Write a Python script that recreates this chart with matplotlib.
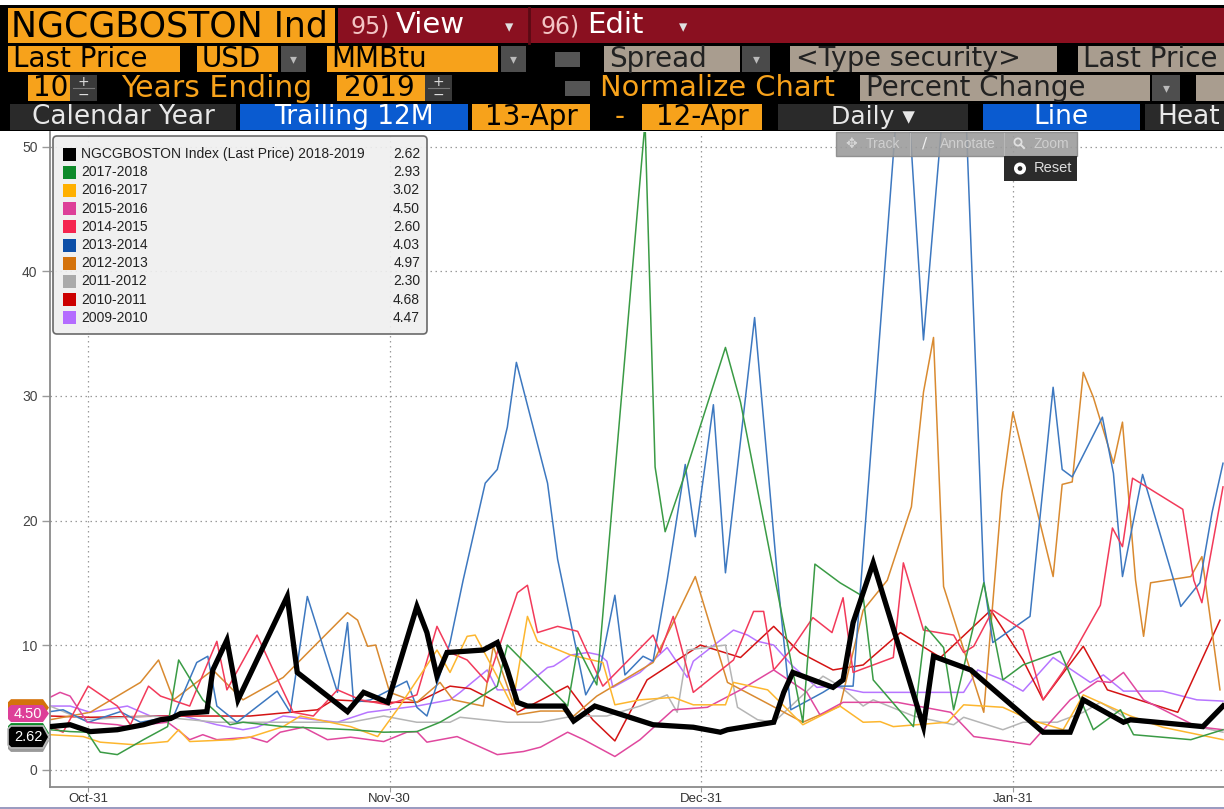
import matplotlib
matplotlib.use("Agg")
import matplotlib.pyplot as plt
from matplotlib.patches import Rectangle, Polygon, FancyBboxPatch, Circle

W, H = 1224, 809

# ---------------- data (x = days after Oct-31, y = USD/MMBtu) ----------------
labels = ["NGCGBOSTON Index (Last Price) 2018-2019", "2017-2018", "2016-2017", "2015-2016",
          "2014-2015", "2013-2014", "2012-2013", "2011-2012", "2010-2011", "2009-2010"]
last_vals = [2.62, 2.93, 3.02, 4.50, 2.60, 4.03, 4.97, 2.30, 4.68, 4.47]
swatch = ["#000000", "#0E8A2A", "#FFB000", "#DD3F98", "#F5254F", "#0D4FA8", "#D4720B",
          "#AAAAAA", "#CC0000", "#B46CFF"]
line_col = ["#000000", "#3A9B45", "#FDB62E", "#E0489E", "#F23A5A", "#3D78C0", "#D98A30",
            "#B5B5B5", "#D41414", "#B775FF"]

d_1819 = [-3.8, -1.8, 0.2, 2.9, 5.5, 7.2, 8.2, 9.2, 11.8, 12.4, 13.8, 14.9, 19.8, 20.8, 25.8,
          27.4, 29.8, 32.7, 33.7, 34.7, 35.7, 39.3, 40.7, 41.7, 42.7, 43.7, 47.3, 48.3, 50.4, 56.2,
          60.2, 62.9, 63.6, 68.2, 69.2, 70.1, 74.1, 75.1, 76.1, 78.1, 83.1, 84.1, 87.8, 95.0, 97.7,
          99.0, 103.0, 103.7, 110.9, 112.9]
v_1819 = [3.45, 3.6, 3.05, 3.2, 3.6, 4.0, 4.1, 4.5, 4.65, 8.0, 10.4, 5.6, 13.9, 7.8, 4.65,
          6.2, 5.4, 13.1, 11.0, 7.5, 9.4, 9.6, 10.2, 8.0, 5.4, 5.1, 5.1, 3.9, 5.1, 3.6,
          3.4, 3.0, 3.2, 3.8, 6.2, 7.8, 6.6, 7.2, 11.8, 16.6, 3.45, 9.1, 8.0, 3.0, 3.0,
          5.6, 3.8, 4.0, 3.45, 5.1]

d_1718 = [-3.8, -1.8, -0.1, 1.2, 2.9, 5.5, 7.9, 9.0, 11.4, 14.1, 15.4, 19.4, 26.1, 29.4, 32.7,
          35.0, 36.7, 40.7, 41.7, 47.7, 48.7, 50.6, 55.4, 56.4, 57.4, 59.4, 63.4, 64.9, 71.1, 72.3,
          74.8, 77.1, 78.1, 82.1, 83.3, 85.1, 86.1, 89.1, 91.0, 93.0, 96.7, 100.0, 102.7, 104.0,
          109.7, 112.9]
v_1718 = [3.2, 3.05, 3.0, 1.4, 1.2, 2.4, 3.45, 8.8, 5.6, 3.6, 3.8, 3.45, 3.2, 3.0, 3.05,
          3.8, 4.6, 6.7, 10.0, 5.1, 9.8, 6.8, 52.0, 24.3, 19.1, 23.8, 33.9, 29.5, 3.8, 16.5,
          15.0, 13.9, 7.2, 3.45, 11.5, 9.8, 4.8, 15.0, 7.2, 8.4, 9.5, 3.2, 4.8, 2.8,
          2.4, 3.2]

d_1617 = [-3.8, -0.5, 1.2, 4.5, 7.9, 9.0, 10.1, 14.4, 16.1, 19.4, 21.1, 26.1, 28.8, 31.0, 34.7,
          36.0, 37.7, 38.5, 41.0, 42.2, 43.7, 44.7, 48.0, 51.2, 52.4, 54.9, 58.2, 60.2, 63.4, 64.2,
          67.6, 71.1, 74.8, 77.1, 78.8, 80.1, 85.5, 87.1, 91.0, 93.7, 97.0, 99.0, 103.7, 106.9, 112.9]
v_1617 = [2.8, 2.65, 2.2, 2.0, 2.25, 3.2, 2.25, 2.4, 2.6, 3.45, 4.3, 3.45, 2.65, 5.1, 9.6,
          7.8, 10.7, 10.8, 7.0, 5.1, 12.3, 10.3, 9.2, 8.6, 5.2, 5.6, 5.8, 5.2, 5.2, 7.0,
          6.4, 3.6, 5.1, 3.8, 3.85, 3.45, 3.8, 5.2, 5.0, 4.0, 3.2, 6.0, 4.3, 3.4, 2.4]

d_1516 = [-3.8, -2.8, -1.8, -0.1, 2.9, 3.9, 7.9, 8.9, 10.1, 11.4, 12.8, 16.1, 17.8, 19.1, 21.4,
          23.8, 26.1, 29.4, 31.7, 32.7, 33.7, 36.7, 40.7, 43.3, 45.0, 47.7, 49.3, 52.4, 54.9, 58.2,
          61.6, 64.9, 68.2, 71.5, 72.8, 75.1, 80.5, 85.8, 88.1, 90.4, 93.7, 97.7, 100.4, 101.7,
          103.0, 105.0, 110.3, 112.9]
v_1516 = [5.8, 6.2, 5.9, 3.8, 3.6, 3.45, 3.8, 3.2, 2.4, 2.8, 2.4, 2.6, 2.2, 3.0, 3.4,
          2.4, 2.6, 2.25, 3.0, 3.05, 2.2, 2.65, 1.2, 1.45, 1.8, 3.0, 2.4, 1.05, 2.4, 4.8,
          5.0, 6.4, 8.0, 6.2, 4.4, 5.4, 5.4, 4.6, 2.65, 2.4, 2.0, 5.6, 7.1, 7.0,
          7.8, 5.6, 3.45, 3.2]

d_1415 = [-3.8, -2.5, 0.0, 2.9, 4.2, 6.0, 7.2, 10.1, 12.8, 13.8, 16.8, 18.4, 20.4, 22.4, 24.8,
          27.1, 29.8, 32.7, 34.7, 36.0, 37.7, 39.7, 42.7, 43.7, 44.7, 46.7, 48.7, 50.0, 51.2, 56.2,
          56.9, 58.2, 60.2, 64.2, 66.2, 67.2, 68.2, 69.9, 72.1, 74.0, 75.1, 76.1, 80.1, 81.1, 83.1,
          86.1, 87.1, 88.1, 90.0, 93.0, 95.0, 97.0, 100.7, 101.9, 102.9, 103.9, 108.9, 110.0,
          110.8, 112.9]
v_1415 = [3.45, 3.0, 6.7, 5.1, 3.6, 6.7, 5.9, 5.1, 10.3, 6.4, 10.8, 8.0, 4.6, 4.3, 6.4,
          5.6, 5.2, 6.0, 11.5, 9.4, 8.8, 7.0, 14.2, 14.8, 11.0, 11.5, 11.1, 8.8, 6.7, 10.8,
          9.4, 12.3, 6.2, 8.8, 12.7, 12.7, 8.0, 9.6, 12.2, 11.0, 13.8, 7.8, 9.0, 16.6, 11.2,
          10.8, 9.4, 9.9, 12.8, 11.2, 5.6, 7.9, 13.2, 19.4, 17.9, 23.4, 20.9, 15.2,
          13.4, 22.7]

d_1314 = [-3.8, -2.5, 0.0, 3.2, 5.2, 8.5, 10.8, 11.9, 12.8, 14.8, 18.8, 20.1, 21.8, 24.8, 25.8,
          26.4, 28.1, 31.7, 32.7, 33.7, 36.0, 37.3, 39.5, 40.7, 41.7, 42.6, 45.7, 46.7, 49.5, 50.9,
          52.4, 53.4, 55.2, 56.2, 57.6, 59.4, 60.4, 62.2, 63.4, 66.3, 68.6, 69.9, 73.1, 74.1, 76.1,
          81.1, 83.1, 86.6, 89.1, 90.0, 93.7, 96.0, 96.9, 97.9, 100.9, 102.0, 102.9, 104.9, 108.0,
          108.7, 110.6, 111.8, 112.9]
v_1314 = [4.65, 4.8, 3.8, 4.65, 3.8, 4.3, 8.6, 9.1, 5.1, 3.8, 6.3, 4.6, 13.9, 6.2, 11.8,
          5.4, 5.6, 7.1, 5.0, 4.3, 10.2, 15.2, 23.0, 24.1, 27.5, 32.7, 23.0, 16.9, 6.0, 8.0,
          14.0, 7.6, 9.1, 8.7, 15.2, 24.5, 18.7, 29.3, 15.8, 36.3, 15.2, 4.8, 6.2, 6.7, 6.7,
          60.0, 34.5, 68.0, 15.2, 10.2, 12.3, 30.7, 24.1, 23.5, 28.3, 23.8, 15.5, 23.7, 15.2,
          13.1, 15.0, 20.6, 24.6]

d_1213 = [-3.8, 0.2, 5.2, 7.0, 8.5, 12.4, 15.4, 19.4, 25.8, 26.8, 27.8, 28.6, 30.0, 32.7, 35.0,
          36.3, 39.3, 40.3, 42.7, 45.0, 47.3, 48.3, 50.6, 56.2, 58.2, 60.4, 63.6, 66.9, 71.1, 74.8,
          77.1, 79.5, 81.9, 83.1, 84.1, 85.1, 89.1, 90.9, 92.0, 96.0, 96.9, 97.9, 99.0, 100.0, 102.0,
          102.9, 104.2, 105.0, 105.7, 109.7, 110.8, 112.6]
v_1213 = [4.0, 4.6, 7.0, 8.8, 5.6, 8.0, 5.6, 7.4, 12.6, 12.0, 9.9, 10.0, 6.2, 5.4, 7.0,
          5.6, 5.1, 9.9, 4.4, 4.7, 4.7, 4.3, 5.9, 8.6, 11.8, 15.5, 7.0, 5.6, 3.8, 5.1,
          12.8, 15.2, 21.1, 30.3, 34.7, 14.7, 4.6, 22.2, 28.7, 15.5, 22.9, 23.1, 31.9, 29.9, 24.6,
          27.9, 15.2, 10.7, 15.0, 15.5, 17.1, 6.4]

d_1112 = [-3.8, -0.5, 6.2, 12.8, 19.4, 26.1, 29.4, 32.7, 36.0, 37.0, 41.7, 45.0, 48.3, 51.6, 54.9,
          57.6, 58.6, 59.6, 63.4, 64.6, 66.6, 68.2, 73.1, 74.8, 77.1, 78.1, 82.1, 86.1, 87.1, 91.0,
          93.0, 96.4, 99.0, 100.7, 102.4, 103.7, 110.3, 112.9]
v_1112 = [5.1, 4.0, 4.3, 3.8, 3.8, 3.8, 4.3, 3.8, 3.8, 4.2, 3.8, 3.8, 4.3, 4.3, 5.1,
          6.0, 4.6, 9.6, 10.0, 5.0, 4.0, 3.8, 7.5, 6.7, 5.1, 5.6, 4.3, 3.6, 4.2, 3.2,
          3.8, 3.8, 4.6, 5.4, 4.6, 3.85, 3.45, 3.0]

d_1011 = [-3.8, 0.2, 7.9, 16.1, 22.8, 24.4, 29.4, 32.7, 36.0, 38.0, 42.7, 47.7, 50.2, 52.4, 55.6,
          60.9, 64.9, 68.2, 70.8, 74.1, 77.1, 80.8, 84.8, 89.8, 93.0, 95.0, 99.0, 101.4, 108.4, 112.6]
v_1011 = [4.3, 4.2, 4.3, 4.3, 4.8, 5.6, 5.4, 5.4, 6.7, 6.5, 4.6, 6.7, 4.0, 2.3, 7.2,
          10.0, 9.0, 11.5, 9.4, 8.0, 8.4, 11.0, 9.0, 12.8, 8.8, 5.6, 9.9, 6.4, 4.6, 12.0]

d_0910 = [-3.8, -1.8, 0.2, 3.9, 6.2, 9.5, 12.8, 15.4, 16.8, 19.4, 24.8, 27.8, 32.7, 36.0, 37.0,
          39.7, 40.7, 43.0, 45.7, 46.3, 48.0, 49.7, 50.9, 51.6, 52.2, 54.9, 57.6, 59.6, 60.2, 64.2,
          65.6, 66.6, 68.2, 70.1, 72.5, 74.1, 77.1, 87.1, 88.5, 91.0, 93.0, 96.0, 99.7, 101.0,
          103.0, 106.9, 110.3, 112.9]
v_0910 = [5.1, 5.1, 4.6, 5.1, 4.3, 4.3, 3.6, 3.2, 3.4, 4.3, 3.8, 4.6, 5.1, 5.6, 6.2,
          8.0, 6.4, 6.4, 8.2, 8.3, 9.2, 9.4, 9.2, 8.7, 6.6, 7.8, 9.8, 7.4, 8.7, 11.2,
          10.8, 10.3, 10.0, 8.3, 6.6, 6.7, 6.2, 6.2, 8.0, 7.2, 6.3, 9.0, 7.0, 7.6,
          6.3, 6.3, 5.6, 5.5]

series = [(d_1819, v_1819), (d_1718, v_1718), (d_1617, v_1617), (d_1516, v_1516),
          (d_1415, v_1415), (d_1314, v_1314), (d_1213, v_1213), (d_1112, v_1112),
          (d_1011, v_1011), (d_0910, v_0910)]

tick_days = [0, 30, 61, 92]
tick_labels = ["Oct-31", "Nov-30", "Dec-31", "Jan-31"]
y_ticks = [0, 10, 20, 30, 40, 50]

# ---------------- figure & layers ----------------
fig = plt.figure(figsize=(W / 100, H / 100), dpi=100, facecolor="white")

bg = fig.add_axes([0, 0, 1, 1], zorder=0)
bg.set_xlim(0, W)
bg.set_ylim(H, 0)
bg.axis("off")

ax = fig.add_axes([50 / W, 22 / H, (W - 50) / W, 655 / H], zorder=1)
ax.patch.set_alpha(0)

top = fig.add_axes([0, 0, 1, 1], zorder=2)
top.set_xlim(0, W)
top.set_ylim(H, 0)
top.axis("off")

ORANGE = "#F7A21B"
TAN = "#A99D8F"
DARK = "#2A2A2A"
BLUE = "#0A5BD0"
DROP = "#4E4E4E"


def box(a, x0, x1, y0, y1, fc, **kw):
    a.add_patch(Rectangle((x0, y0), x1 - x0, y1 - y0, fc=fc, ec="none", **kw))


def txt(a, x, y, s, size, color, ha="left", family="DejaVu Sans", **kw):
    a.text(x, y, s, fontsize=size, color=color, ha=ha, va="center", family=family, **kw)


def spinner(x0, y0, y1):
    box(bg, x0, x0 + 27, y0, y1, "#3A3A3A")
    bg.plot([x0 + 3, x0 + 24], [(y0 + y1) / 2] * 2, color="#777", lw=0.8)
    txt(bg, x0 + 13.5, y0 + 6.5, "+", 10, "#DDD", ha="center")
    txt(bg, x0 + 13.5, y1 - 6.5, "\u2212", 10, "#DDD", ha="center")


def dropdown(x0, x1, y0, y1, fc=DROP):
    box(bg, x0, x1, y0, y1, fc)
    txt(bg, (x0 + x1) / 2, (y0 + y1) / 2, "\u25be", 10, "#BBBBBB", ha="center")


# ---------------- header ----------------
box(bg, 0, W, 5, 131, "black")

# row 1
box(bg, 8, 335, 8, 43, ORANGE)
txt(bg, 11, 26, "NGCGBOSTON Ind", 25, "black")
box(bg, 338, W, 8, 43, "#8A1020")
bg.plot([529, 529], [8, 43], color="#5A0A14", lw=2)
txt(bg, 350, 26, "95)", 17, "#F2C4C4")
txt(bg, 396, 25, "View", 21, "white")
txt(bg, 505, 27, "\u25be", 12, "#E0E0E0")
txt(bg, 541, 26, "96)", 17, "#F2C4C4")
txt(bg, 587, 25, "Edit", 21, "white")
txt(bg, 679, 27, "\u25be", 12, "#E0E0E0")

# row 2
r2a, r2b, r2c = 46, 72, 59
box(bg, 8, 180, r2a, r2b, ORANGE)
txt(bg, 13, r2c, "Last Price", 20, "black")
box(bg, 197, 278, r2a, r2b, ORANGE)
txt(bg, 202, r2c, "USD", 20, "black")
dropdown(281, 306, r2a, r2b)
box(bg, 327, 498, r2a, r2b, ORANGE)
txt(bg, 331, r2c, "MMBtu", 20, "black")
dropdown(501, 526, r2a, r2b)
box(bg, 555, 580, 52, 67, "#555555")
box(bg, 604, 740, r2a, r2b, TAN)
txt(bg, 609, r2c, "Spread", 20, "#222")
dropdown(742, 770, r2a, r2b, "#4A4A4A")
box(bg, 790, 1057, r2a, r2b, TAN)
txt(bg, 796, r2c, "<Type security>", 19.5, "#222")
box(bg, 1078, W, r2a, r2b, TAN)
txt(bg, 1083, r2c, "Last Price", 20, "#222")

# row 3
r3a, r3b, r3c = 75, 101, 88
box(bg, 28, 70, r3a, r3b, ORANGE)
txt(bg, 33, r3c, "10", 20, "black")
spinner(70, r3a, r3b)
txt(bg, 121, r3c, "Years Ending", 21.5, ORANGE)
box(bg, 337, 425, r3a, r3b, ORANGE)
txt(bg, 344, r3c, "2019", 20, "black")
spinner(425, r3a, r3b)
box(bg, 565, 590, 81, 96, "#555555")
txt(bg, 600, r3c, "Normalize Chart", 20.8, ORANGE)
box(bg, 860, 1150, r3a, r3b, TAN)
txt(bg, 866, r3c, "Percent Change", 20, "#222")
dropdown(1152, 1180, r3a, r3b)
box(bg, 1196, W, r3a, r3b, TAN)

# row 4
r4a, r4b, r4c = 104, 130, 117
box(bg, 10, 236, r4a, r4b, DARK)
txt(bg, 123, r4c, "Calendar Year", 19, "#E8E8E8", ha="center")
box(bg, 240, 468, r4a, r4b, BLUE)
txt(bg, 354, r4c, "Trailing 12M", 19, "white", ha="center")
box(bg, 472, 590, r4a, r4b, ORANGE)
txt(bg, 531, r4c, "13-Apr", 20, "black", ha="center")
txt(bg, 620, r4c, "-", 20, ORANGE, ha="center")
box(bg, 642, 762, r4a, r4b, ORANGE)
txt(bg, 702, r4c, "12-Apr", 20, "black", ha="center")
box(bg, 778, 968, r4a, r4b, DARK)
txt(bg, 873, r4c, "Daily \u25be", 18, "#E8E8E8", ha="center")
box(bg, 983, 1140, r4a, r4b, BLUE)
txt(bg, 1061, r4c, "Line", 19, "white", ha="center")
box(bg, 1145, W, r4a, r4b, DARK)
txt(bg, 1157, r4c, "Heat", 19, "#E8E8E8")

# bottom rule
bg.plot([0, W], [807.5, 807.5], color="#9A9AC0", lw=1.4)

# ---------------- chart ----------------
for i in range(len(series) - 1, -1, -1):
    d, v = series[i]
    ax.plot(d, v, color=line_col[i], lw=3.8 if i == 0 else 1.1,
            solid_joinstyle="miter" if i == 0 else "round", zorder=3 if i == 0 else 2)

ax.set_xlim(-3.8, 113.0)
ax.set_ylim(-1.4, 51.2)
ax.set_xticks(tick_days)
ax.set_xticklabels(tick_labels)
ax.set_yticks(y_ticks)
ax.grid(True, color="#9A9A9A", lw=0.9, linestyle=(0, (1.2, 2.8)))
ax.set_axisbelow(True)
for s in ("top", "right"):
    ax.spines[s].set_visible(False)
for s in ("left", "bottom"):
    ax.spines[s].set_color("#8A8A8A")
    ax.spines[s].set_linewidth(1.3)
ax.tick_params(axis="y", length=6, width=1, color="#9A9A9A", pad=3,
               labelsize=10, labelcolor="#444")
ax.tick_params(axis="x", length=3.5, width=0.8, color="#9A9A9A", pad=0.5,
               labelsize=9.5, labelcolor="#333")
for lab in ax.get_xticklabels() + ax.get_yticklabels():
    lab.set_family("Liberation Sans")

# ---------------- legend (top layer) ----------------
top.add_patch(FancyBboxPatch((53, 136), 374, 198, boxstyle="round,pad=0,rounding_size=4",
                             fc="#EFEFEF", ec="#5A5A5A", lw=1.2, alpha=0.9))
for i, lab in enumerate(labels):
    yc = 154 + i * 18.2
    top.add_patch(Rectangle((63, yc - 6.5), 13, 13, fc=swatch[i], ec="none"))
    txt(top, 81, yc, lab, 10, "#222", family="Liberation Sans")
    txt(top, 420, yc, f"{last_vals[i]:.2f}", 10, "#222", ha="right", family="Liberation Sans")

# ---------------- toolbar overlay ----------------
top.add_patch(Rectangle((836, 132), 241, 24, fc="#9C9C9C", ec="#8A8A8A", alpha=0.9))
for xs in (910, 1004):
    top.plot([xs, xs], [133, 155], color="#B8B8B8", lw=0.8)
txt(top, 851, 144, "\u2725", 10, "#D8D8D8", ha="center")
txt(top, 866, 144, "Track", 10, "#CFCFCF", family="Liberation Sans")
txt(top, 925, 144, "\u2215", 11, "#F0F0F0", ha="center")
txt(top, 940, 144, "Annotate", 10, "#CFCFCF", family="Liberation Sans")
top.add_patch(Circle((1018, 142), 3.6, fc="none", ec="#E0E0E0", lw=1.3))
top.plot([1020.5, 1024], [144.5, 148], color="#E0E0E0", lw=1.5)
txt(top, 1033, 144, "Zoom", 10, "#CFCFCF", family="Liberation Sans")
top.add_patch(Rectangle((1004, 156), 73, 25, fc="#2B2B2B", ec="none"))
top.add_patch(Circle((1020, 168.5), 4.2, fc="none", ec="white", lw=2.6))
txt(top, 1034, 168, "Reset", 10.5, "#DDDDDD", family="Liberation Sans")


# ---------------- last-value tags on the left axis ----------------
def tag(val, fc, h, label=None, ec="none"):
    yc = H - ax.transData.transform((0, val))[1]
    pts = [(8, yc - h / 2 + 3), (11, yc - h / 2), (43, yc - h / 2), (49, yc),
           (43, yc + h / 2), (11, yc + h / 2), (8, yc + h / 2 - 3)]
    top.add_patch(Polygon(pts, closed=True, fc=fc, ec=ec, lw=1.2))
    if label:
        txt(top, 28, yc, label, 10.5, "white", ha="center", family="Liberation Sans")


tag(last_vals[6], swatch[6], 17)
tag(last_vals[7], "#9A9A9A", 22)
tag(last_vals[1], swatch[1], 20)
tag(last_vals[3], swatch[3], 17, f"{last_vals[3]:.2f}")
tag(last_vals[0], "black", 22, f"{last_vals[0]:.2f}", ec="#BBBBBB")

fig.savefig("out.png", dpi=100, facecolor="white")
